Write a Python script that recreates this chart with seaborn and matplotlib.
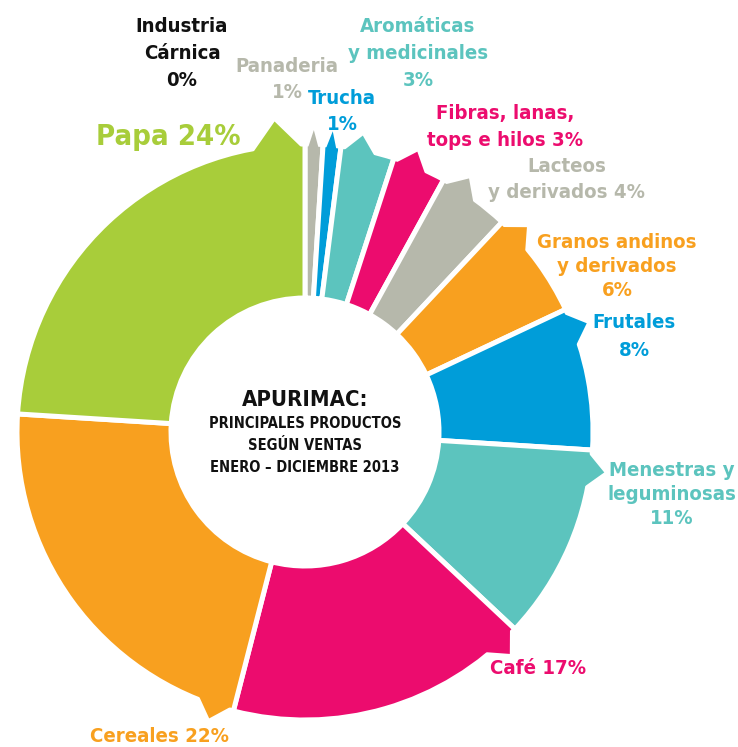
import numpy as np
import matplotlib
matplotlib.use("Agg")
import matplotlib.pyplot as plt
from matplotlib.patches import Polygon
import seaborn as sns

# data, clockwise from the top
categories = ["Industria Cárnica", "Panaderia", "Trucha", "Aromáticas y medicinales",
              "Fibras, lanas, tops e hilos", "Lacteos y derivados",
              "Granos andinos y derivados", "Frutales", "Menestras y leguminosas",
              "Café", "Cereales", "Papa"]
shares = [0, 1, 1, 3, 3, 4, 6, 8, 11, 17, 22, 24]
label_texts = ["Industria\nCárnica\n0%", "Panaderia\n1%", "Trucha\n1%",
               "Aromáticas\ny medicinales\n3%", "Fibras, lanas,\ntops e hilos 3%",
               "Lacteos\ny derivados 4%", "Granos andinos\ny derivados\n6%",
               "Frutales\n8%", "Menestras y\nleguminosas\n11%", "Café 17%",
               "Cereales 22%", "Papa 24%"]
center_title = "APURIMAC:"
center_sub = "PRINCIPALES PRODUCTOS\nSEGÚN VENTAS\nENERO – DICIEMBRE 2013"

sns.set_theme(style="white")
plt.rcParams['font.family'] = ['DejaVu Sans']
plt.rcParams['font.stretch'] = 'condensed'

GREEN, ORANGE, PINK = "#a8cd3a", "#f8a01f", "#ec0c6e"
TEAL, BLUE, GREY = "#5cc4be", "#009dd9", "#b6b8ab"
palette = ["#222222", GREY, BLUE, TEAL, PINK, GREY, ORANGE, BLUE, TEAL, PINK, ORANGE, GREEN]
text_colors = ["#111111", GREY, BLUE, TEAL, PINK, GREY, ORANGE, BLUE, TEAL, PINK, ORANGE, GREEN]

# label layout in pixels: centre x, y of first line (from top), line pitch
label_x = [182, 287, 342, 418, 505, 567, 617, 634, 672, 538, 160, 168]
label_y0 = [27, 67, 98, 27, 113, 167, 243, 323, 471, 669, 737, 137]
label_pitch = [26.5, 26, 26, 26.5, 27, 26, 23.5, 27, 24, 0, 0, 0]
label_size = [14.6] * 11 + [21]

W, H = 738, 747
fig = plt.figure(figsize=(W / 100, H / 100), dpi=100)
ax = fig.add_axes([0, 0, 1, 1])

cx, cy = 305, H - 432
r_out, r_in = 288, 134

wedges, _ = ax.pie(shares, colors=palette, startangle=90, counterclock=False,
                   radius=r_out, center=(cx, cy), frame=True,
                   wedgeprops=dict(width=r_out - r_in, edgecolor="white", linewidth=3.6))

# little pointer tabs on the outer rim
gap = np.degrees(3.0 / r_out)
for name, w, val, col in zip(categories, wedges, shares, palette):
    if val == 0:
        continue
    span = w.theta2 - w.theta1
    tw = min(7.0, 0.6 * span)
    h = 14
    if name == "Papa":
        start, d, tw, h = w.theta1 + gap, 1, 10.0, 24
    else:
        start, d = w.theta2 - gap, -1
    angs = [start, start + d * tw * 0.5, start + d * tw]
    rads = [r_out - 4, r_out + h, r_out - 4]
    pts = [(cx + r * np.cos(np.radians(a)), cy + r * np.sin(np.radians(a)))
           for a, r in zip(angs, rads)]
    ax.add_patch(Polygon(pts, closed=True, facecolor=col, edgecolor="none", zorder=3))

for txt, x, y0, pitch, col, fs in zip(label_texts, label_x, label_y0, label_pitch,
                                       text_colors, label_size):
    for i, line in enumerate(txt.split("\n")):
        ax.text(x, H - (y0 + i * pitch), line, color=col, ha="center", va="center",
                fontsize=fs, fontweight="bold")

ax.text(cx, H - 400, center_title, ha="center", va="center", fontsize=15.8,
        fontweight="bold", color="#111111")
for i, line in enumerate(center_sub.split("\n")):
    ax.text(cx, H - (424 + i * 21.5), line, ha="center", va="center", fontsize=10.5,
            fontweight="bold", color="#111111")

ax.set_xlim(0, W)
ax.set_ylim(0, H)
ax.set_aspect("equal")
ax.axis("off")

fig.savefig("out.png", dpi=100, facecolor="white")
